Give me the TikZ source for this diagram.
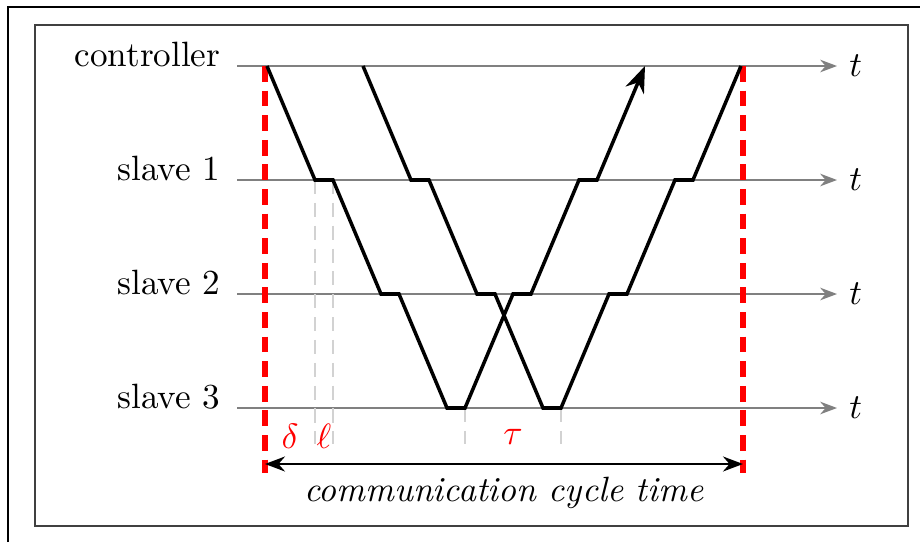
\documentclass[tikz,border=0pt]{standalone}
\usepackage{amsmath,amssymb}
\usepackage{tikz}
\usetikzlibrary{arrows.meta}

\begin{document}
\begin{tikzpicture}[>=Stealth]
    \useasboundingbox (0,0) rectangle (9.2,5.42);

    % Frames
    \draw[line width=0.5pt] (0.08,0) -- (0.08,5.35) -- (9.2,5.35);
    \draw[line width=0.8pt, black!75] (0.35,0.16) rectangle (9.08,5.17);

    % Time axes
    \coordinate (C0) at (2.37,4.76); \coordinate (C1) at (8.37,4.76);
    \coordinate (S10) at (2.37,3.62); \coordinate (S11) at (8.37,3.62);
    \coordinate (S20) at (2.37,2.48); \coordinate (S21) at (8.37,2.48);
    \coordinate (S30) at (2.37,1.34); \coordinate (S31) at (8.37,1.34);
    \draw[->, gray] (C0) -- (C1) node[right, black] (tC) {$t$};
    \draw[->, gray] (S10) -- (S11) node[right, black] (tS1) {$t$};
    \draw[->, gray] (S20) -- (S21) node[right, black] (tS2) {$t$};
    \draw[->, gray] (S30) -- (S31) node[right, black] (tS3) {$t$};
    \node[anchor=base east, inner sep=0pt] (ctrl) at (2.21,4.76) {controller};
    \node[anchor=base east, inner sep=0pt] (slave1) at (2.21,3.62) {slave 1};
    \node[anchor=base east, inner sep=0pt] (slave2) at (2.21,2.48) {slave 2};
    \node[anchor=base east, inner sep=0pt] (slave3) at (2.21,1.34) {slave 3};

    % Cycle borders
    \draw[red, line width=1.8pt, dash pattern=on 4.5pt off 2.5pt] (2.65,4.76) -- (2.65,0.69);
    \draw[red, line width=1.8pt, dash pattern=on 4.5pt off 2.5pt] (7.43,4.76) -- (7.43,0.69);

    % Delay markers
    \draw[gray!35, line width=0.7pt, dash pattern=on 4pt off 2.5pt] (3.15,3.62) -- (3.15,0.98);
    \draw[gray!35, line width=0.7pt, dash pattern=on 4pt off 2.5pt] (3.33,3.62) -- (3.33,0.98);
    \draw[gray!35, line width=0.7pt, dash pattern=on 4pt off 2.5pt] (4.65,1.34) -- (4.65,0.98);
    \draw[gray!35, line width=0.7pt, dash pattern=on 4pt off 2.5pt] (5.61,1.34) -- (5.61,0.98);
    \node[red] (delta) at (2.90,1.06) {$\delta$};
    \node[red] (ell) at (3.24,1.06) {$\ell$};
    \node[red] (tau) at (5.13,1.05) {$\tau$};

    % Frames travelling through the slaves
    \coordinate (A) at (2.67,4.76);
    \coordinate (B) at (3.63,4.76);
    \draw[line width=1pt, ->] (A) -- ++(0.48,-1.14) -- ++(0.18,0) -- ++(0.48,-1.14) -- ++(0.18,0)
        -- ++(0.48,-1.14) -- ++(0.18,0) -- ++(0.48,1.14) -- ++(0.18,0)
        -- ++(0.48,1.14) -- ++(0.18,0) -- ++(0.48,1.14);
    \draw[line width=1pt] (B) -- ++(0.48,-1.14) -- ++(0.18,0) -- ++(0.48,-1.14) -- ++(0.18,0)
        -- ++(0.48,-1.14) -- ++(0.18,0) -- ++(0.48,1.14) -- ++(0.18,0)
        -- ++(0.48,1.14) -- ++(0.18,0) -- ++(0.48,1.14);

    % Cycle time
    \coordinate (L) at (2.65,0.78);
    \coordinate (R) at (7.43,0.78);
    \draw[semithick, <->] (L) -- (R) node[midway, below] (cyc) {\textit{communication cycle time}};
\end{tikzpicture}
\end{document}
